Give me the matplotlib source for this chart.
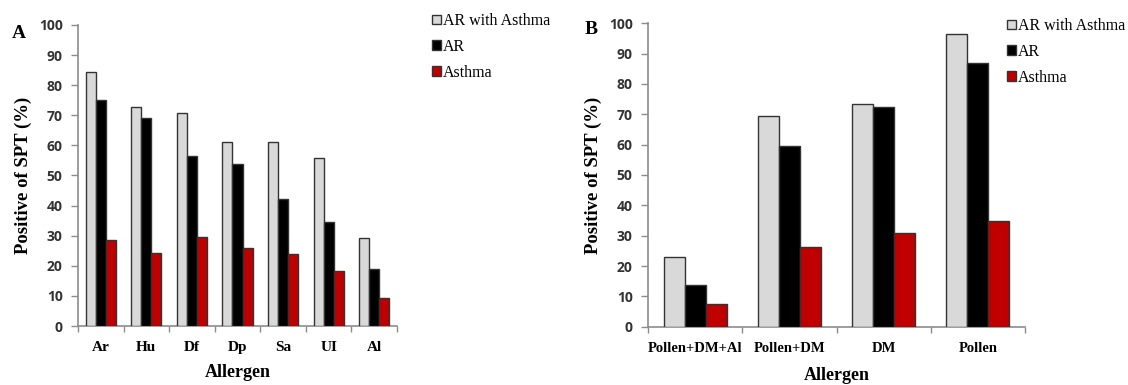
import matplotlib
matplotlib.use("Agg")
import matplotlib.pyplot as plt
import numpy as np

# ---- data ----
series_names = ["AR with Asthma", "AR", "Asthma"]
series_colors = ["#D9D9D9", "#000000", "#C00000"]

cats_a = ["Ar", "Hu", "Df", "Dp", "Sa", "UI", "Al"]
a_ar_asthma = [84.5, 72.9, 70.9, 61.2, 61.2, 55.7, 29.1]
a_ar = [75.1, 69.0, 56.6, 53.8, 42.2, 34.7, 18.8]
a_asthma = [28.6, 24.2, 29.5, 26.0, 23.8, 18.3, 9.4]

cats_b = ["Pollen+DM+Al", "Pollen+DM", "DM", "Pollen"]
b_ar_asthma = [23.1, 69.3, 73.4, 96.5]
b_ar = [13.8, 59.6, 72.3, 86.8]
b_asthma = [7.4, 26.3, 31.0, 34.7]

yticks = [0, 10, 20, 30, 40, 50, 60, 70, 80, 90, 100]

W, H = 1128, 385
fig = plt.figure(figsize=(W / 100, H / 100), dpi=100)

SERIF = "Liberation Serif"
SANS = "Open Sans"
AXCOL = "#8C8C8C"


def draw_panel(rect, cats, values, bw, letter, letter_xy, ylabel_x, legend_xy, catsize, xlabpad):
    ax = fig.add_axes(rect)
    x = np.arange(len(cats))
    for i, (vals, col) in enumerate(zip(values, series_colors)):
        ax.bar(x + (i - 1) * bw, vals, width=bw, color=col,
               edgecolor="#333333", linewidth=1.0, label=series_names[i], zorder=3)
    ax.set_xlim(-0.5, len(cats) - 0.5)
    ax.set_ylim(0, 100)
    ax.set_yticks(yticks)
    ax.set_yticklabels([str(t) for t in yticks], fontfamily=SANS,
                       fontweight="bold", fontsize=10, color="#333333")
    ax.set_xticks(x)
    ax.set_xticklabels(cats, fontfamily=SERIF, fontweight="bold", fontsize=catsize)
    ax.set_xticks(np.arange(len(cats) + 1) - 0.5, minor=True)
    ax.tick_params(axis="x", which="major", length=0, pad=11)
    ax.tick_params(axis="x", which="minor", length=4, color=AXCOL, width=1)
    ax.tick_params(axis="y", length=5, color=AXCOL, width=1, pad=6)
    for s in ["top", "right"]:
        ax.spines[s].set_visible(False)
    for s in ["left", "bottom"]:
        ax.spines[s].set_color(AXCOL)
        ax.spines[s].set_linewidth(1.2)
    ax.set_xlabel("Allergen", fontfamily=SERIF, fontweight="bold",
                  fontsize=13, labelpad=xlabpad)
    ax.set_ylabel("Positive of SPT (%)", fontfamily=SERIF, fontweight="bold",
                  fontsize=13.5)
    ax.yaxis.set_label_coords(ylabel_x, 0.5)
    ax.yaxis.label.set_transform(
        matplotlib.transforms.blended_transform_factory(fig.transFigure, ax.transAxes))
    fig.text(letter_xy[0], letter_xy[1], letter, fontfamily=SERIF,
             fontweight="bold", fontsize=14, ha="left", va="center")
    leg = fig.legend(*ax.get_legend_handles_labels(), loc="upper left",
                     bbox_to_anchor=legend_xy, bbox_transform=fig.transFigure,
                     frameon=False, prop={"family": SERIF, "size": 11.5},
                     handlelength=0.55, handleheight=0.55, handletextpad=0.15,
                     labelspacing=0.62, borderpad=0, borderaxespad=0)
    for h in leg.legend_handles:
        h.set_edgecolor("#333333")
        h.set_linewidth(1.0)
    return ax


draw_panel([78 / W, (H - 326) / H, 319 / W, 301 / H], cats_a,
           [a_ar_asthma, a_ar, a_asthma], 0.22, "A", (12 / W, 1 - 33 / H),
           32 / W, (432 / W, 1 - 13 / H), 11, 7)
draw_panel([648 / W, (H - 326.7) / H, 377 / W, 303.4 / H], cats_b,
           [b_ar_asthma, b_ar, b_asthma], 0.223, "B", (585 / W, 1 - 30 / H),
           602 / W, (1007 / W, 1 - 18 / H), 10.5, 9)

fig.savefig("out.png", dpi=100)
